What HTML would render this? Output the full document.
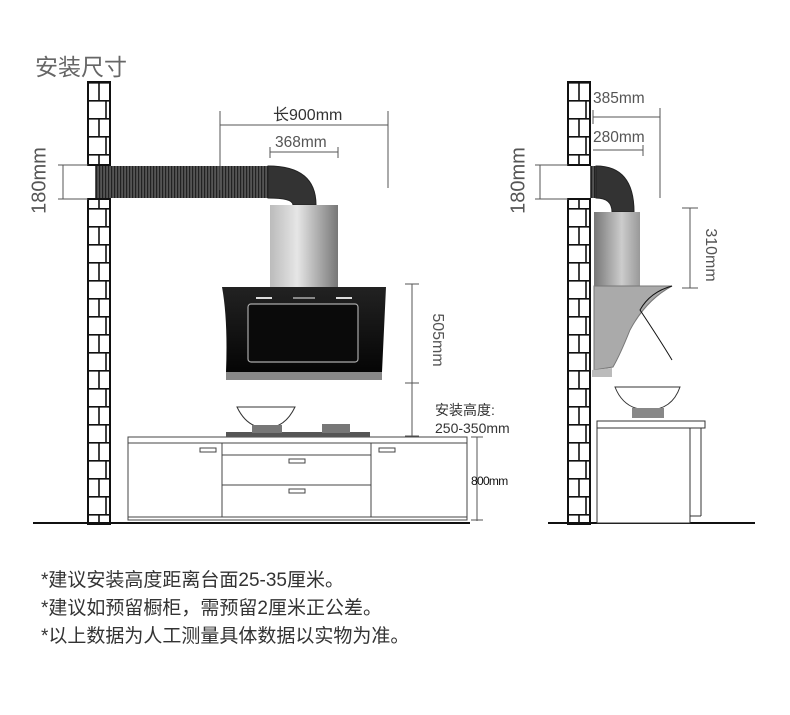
<!DOCTYPE html>
<html><head><meta charset="utf-8"><style>
html,body{margin:0;padding:0;background:#fff}
body{width:790px;height:715px;overflow:hidden;position:relative;font-family:"Liberation Sans","Noto Sans CJK SC",sans-serif}
.t{position:absolute;white-space:nowrap}
</style></head><body>
<svg width="790" height="715" style="position:absolute;left:0;top:0">
<defs>
<pattern id="brick" x="88" y="82" width="22" height="36" patternUnits="userSpaceOnUse">
<rect width="22" height="36" fill="#fff"/>
<line x1="0" y1="0.8" x2="22" y2="0.8" stroke="#111" stroke-width="1.6"/>
<line x1="0" y1="18.8" x2="22" y2="18.8" stroke="#111" stroke-width="1.6"/>
<line x1="11" y1="0" x2="11" y2="18" stroke="#111" stroke-width="1.6"/>
<line x1="18" y1="18" x2="18" y2="36" stroke="#111" stroke-width="1.6"/>
</pattern>
<pattern id="brick2" x="568" y="82" width="22" height="36" patternUnits="userSpaceOnUse">
<rect width="22" height="36" fill="#fff"/>
<line x1="0" y1="0.8" x2="22" y2="0.8" stroke="#111" stroke-width="1.6"/>
<line x1="0" y1="18.8" x2="22" y2="18.8" stroke="#111" stroke-width="1.6"/>
<line x1="11" y1="0" x2="11" y2="18" stroke="#111" stroke-width="1.6"/>
<line x1="18" y1="18" x2="18" y2="36" stroke="#111" stroke-width="1.6"/>
</pattern>
<pattern id="rib" width="3" height="10" patternUnits="userSpaceOnUse">
<rect width="3" height="10" fill="#555"/><rect width="1.2" height="10" fill="#222"/>
</pattern>
<linearGradient id="chim" x1="0" x2="1"><stop offset="0" stop-color="#bbb"/><stop offset="0.4" stop-color="#e6e6e6"/><stop offset="1" stop-color="#777"/></linearGradient>
<linearGradient id="chim2" x1="0" x2="1"><stop offset="0" stop-color="#777"/><stop offset="0.6" stop-color="#ccc"/><stop offset="1" stop-color="#999"/></linearGradient>
<linearGradient id="hood" x1="0" y1="0" x2="0" y2="1"><stop offset="0" stop-color="#222"/><stop offset="1" stop-color="#050505"/></linearGradient>
</defs>
<rect x="88" y="82" width="22" height="83" fill="url(#brick)" stroke="#111" stroke-width="2"/>
<rect x="88" y="199" width="22" height="325" fill="url(#brick)" stroke="#111" stroke-width="2"/>
<rect x="568" y="82" width="22" height="83" fill="url(#brick2)" stroke="#111" stroke-width="2"/>
<rect x="568" y="199" width="22" height="325" fill="url(#brick2)" stroke="#111" stroke-width="2"/>
<line x1="33" y1="523" x2="470" y2="523" stroke="#111" stroke-width="2"/>
<line x1="548" y1="523" x2="755" y2="523" stroke="#111" stroke-width="2"/>
<rect x="95" y="166" width="175" height="32" fill="url(#rib)"/>
<path d="M268 166 Q316 166 316 205 L293 205 Q293 198 268 198 Z" fill="#333" stroke="#222"/>
<rect x="270" y="205" width="68" height="82" fill="url(#chim)"/>
<path d="M222 287 L386 287 L382 372 L226 372 Q228 320 222 287 Z" fill="url(#hood)"/>
<rect x="248" y="304" width="110" height="58" rx="3" fill="#0a0a0a" stroke="#aaa" stroke-width="1.2"/>
<rect x="226" y="372" width="156" height="8" fill="#888"/>
<rect x="256" y="297" width="16" height="2" fill="#ddd"/><rect x="336" y="297" width="16" height="2" fill="#ddd"/>
<rect x="293" y="297" width="22" height="2" fill="#888"/>
<g stroke="#555" stroke-width="1" fill="none">
<line x1="220" y1="111" x2="220" y2="190"/><line x1="388" y1="111" x2="388" y2="188"/><line x1="220" y1="125" x2="388" y2="125"/>
<line x1="270" y1="152" x2="338" y2="152"/><line x1="270" y1="147" x2="270" y2="158"/><line x1="338" y1="147" x2="338" y2="158"/>
<line x1="63" y1="165" x2="63" y2="199"/><line x1="58" y1="165" x2="88" y2="165"/><line x1="58" y1="199" x2="88" y2="199"/>
<line x1="412" y1="284" x2="412" y2="436"/><line x1="405" y1="284" x2="419" y2="284"/><line x1="405" y1="383" x2="419" y2="383"/><line x1="405" y1="436" x2="419" y2="436"/>
<line x1="477" y1="437" x2="477" y2="521"/><line x1="471" y1="437" x2="483" y2="437"/><line x1="471" y1="520" x2="483" y2="520"/>
</g>
<g stroke="#444" stroke-width="1" fill="#fff">
<rect x="128" y="437" width="339" height="83"/>
<line x1="128" y1="443" x2="467" y2="443"/>
<line x1="128" y1="517" x2="467" y2="517"/>
<line x1="222" y1="443" x2="222" y2="517"/><line x1="371" y1="443" x2="371" y2="517"/>
<line x1="222" y1="455" x2="371" y2="455"/><line x1="222" y1="485" x2="371" y2="485"/>
<rect x="200" y="448" width="16" height="4"/><rect x="379" y="448" width="16" height="4"/>
<rect x="289" y="459" width="16" height="4"/><rect x="289" y="489" width="16" height="4"/>
</g>
<rect x="226" y="432" width="144" height="5" fill="#555"/>
<path d="M237 407 L295 407 Q285 428 266 428 Q247 428 237 407 Z" fill="#fff" stroke="#333"/>
<rect x="252" y="425" width="30" height="8" fill="#777"/><rect x="322" y="424" width="28" height="9" fill="#777"/>
<rect x="590" y="166" width="8" height="32" fill="url(#rib)"/>
<path d="M596 166 Q634 166 634 212 L612 212 Q612 198 596 198 Z" fill="#333" stroke="#222"/>
<rect x="594" y="212" width="46" height="74" fill="url(#chim2)"/>
<path d="M594 286 L672 286 Q646 300 630 330 Q620 355 613 367 L594 370 Z" fill="#aaa" stroke="#777"/>
<path d="M672 286 Q650 292 640 310 Q660 340 672 360" stroke="#111" fill="none"/>
<path d="M592 370 L612 368 L612 377 L592 377 Z" fill="#bbb"/>
<g stroke="#555" stroke-width="1" fill="none">
<line x1="593" y1="117" x2="660" y2="117"/><line x1="660" y1="108" x2="660" y2="198"/><line x1="593" y1="110" x2="593" y2="124"/>
<line x1="593" y1="150" x2="643" y2="150"/><line x1="643" y1="145" x2="643" y2="156"/>
<line x1="540" y1="165" x2="540" y2="199"/><line x1="535" y1="165" x2="568" y2="165"/><line x1="535" y1="199" x2="568" y2="199"/>
<line x1="690" y1="208" x2="690" y2="288"/><line x1="682" y1="208" x2="698" y2="208"/><line x1="682" y1="288" x2="698" y2="288"/>
</g>
<path d="M615 387 L680 387 Q672 410 648 410 Q624 410 615 387 Z" fill="#fff" stroke="#333"/>
<rect x="632" y="408" width="32" height="10" fill="#888"/>
<g stroke="#333" stroke-width="1" fill="#fff">
<rect x="597" y="421" width="108" height="7"/>
<rect x="597" y="428" width="93" height="95"/>
<line x1="701" y1="428" x2="701" y2="516"/><line x1="690" y1="516" x2="701" y2="516"/>
</g>
</svg>
<div class="t" style="left:35px;top:48px;font-size:23px;color:#666">安装尺寸</div>
<div class="t" style="left:273px;top:101px;font-size:16px;color:#333">长900mm</div>
<div class="t" style="left:275px;top:134px;font-size:15.5px;color:#555">368mm</div>
<div class="t" style="left:593px;top:90px;font-size:15.5px;color:#555">385mm</div>
<div class="t" style="left:593px;top:129px;font-size:15.5px;color:#555">280mm</div>
<div class="t" style="left:5px;top:169px;font-size:20px;color:#555;transform:rotate(-90deg);width:70px;text-align:center">180mm</div>
<div class="t" style="left:484px;top:169px;font-size:20px;color:#555;transform:rotate(-90deg);width:70px;text-align:center">180mm</div>
<div class="t" style="left:404px;top:331px;font-size:16px;color:#555;transform:rotate(90deg);width:66px;text-align:center">505mm</div>
<div class="t" style="left:677px;top:246px;font-size:16px;color:#555;transform:rotate(90deg);width:66px;text-align:center">310mm</div>
<div class="t" style="left:435px;top:400px;font-size:14px;color:#333">安装高度:</div>
<div class="t" style="left:435px;top:420px;font-size:14px;color:#333">250-350mm</div>
<div class="t" style="left:471px;top:474px;font-size:12px;color:#111;letter-spacing:-0.7px">800mm</div>
<div class="t" style="left:41px;top:567px;font-size:19px;color:#333;line-height:28px">*建议安装高度距离台面25-35厘米。<br>*建议如预留橱柜，需预留2厘米正公差。<br>*以上数据为人工测量具体数据以实物为准。</div>
</body></html>
